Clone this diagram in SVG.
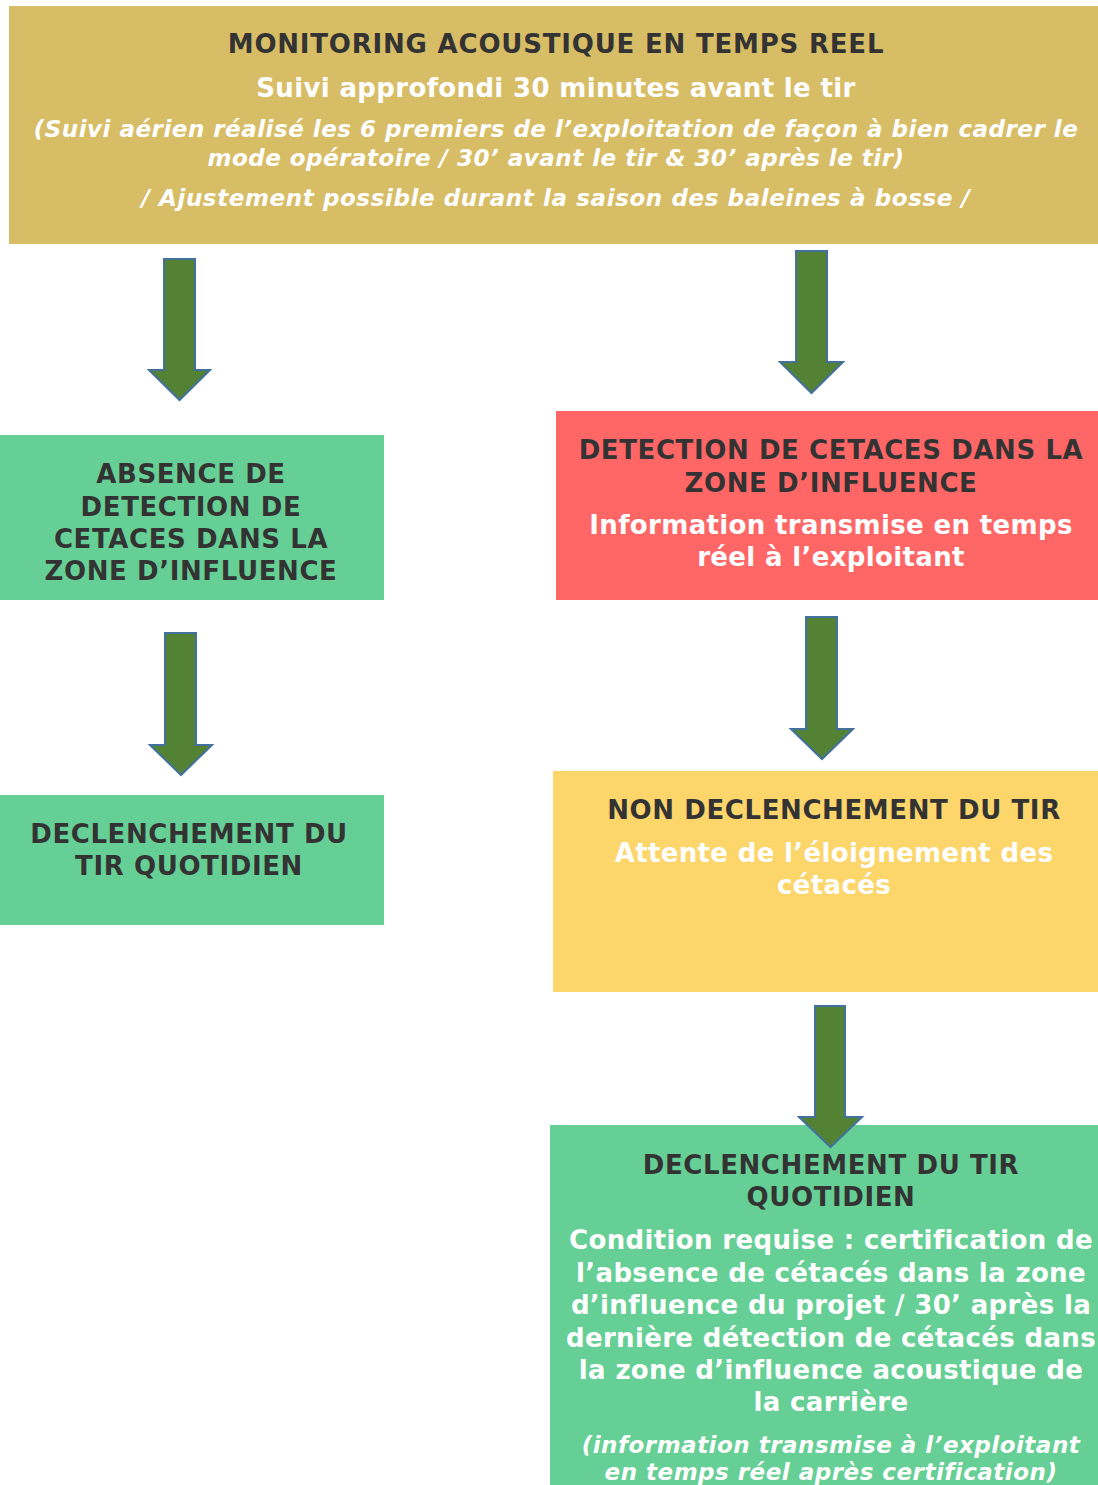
<svg xmlns="http://www.w3.org/2000/svg" width="1098" height="1485" viewBox="0 0 1098 1485">
<style>
text{font-family:"DejaVu Sans","Liberation Sans",sans-serif;font-weight:bold;text-anchor:middle}
.d{fill:#333333;font-size:26px;letter-spacing:0.6px}
.t{letter-spacing:0.8px}
.w{fill:#ffffff;font-size:26px;letter-spacing:0.35px}
.i{fill:#ffffff;font-size:23px;font-style:italic;letter-spacing:0.5px}
.arrow{fill:#548235;stroke:#41719C;stroke-width:2}
</style>
<rect width="1098" height="1485" fill="#ffffff"/>
<g id="top">
<rect x="9" y="6" width="1089" height="238" fill="#D8BD67"/>
<text class="d t" x="556" y="53">MONITORING ACOUSTIQUE EN TEMPS REEL</text>
<text class="w" x="556" y="97">Suivi approfondi 30 minutes avant le tir</text>
<text class="i" x="556" y="137">(Suivi aérien réalisé les 6 premiers de l’exploitation de façon à bien cadrer le</text>
<text class="i" x="556" y="166">mode opératoire / 30’ avant le tir &amp; 30’ après le tir)</text>
<text class="i" x="556" y="206" style="letter-spacing:0.6px">/ Ajustement possible durant la saison des baleines à bosse /</text>
</g>
<g id="absence">
<rect x="0" y="435" width="384" height="165" fill="#66CF95"/>
<text class="d" x="191" y="483">ABSENCE DE</text>
<text class="d" x="191" y="516">DETECTION DE</text>
<text class="d" x="191" y="548">CETACES DANS LA</text>
<text class="d" x="191" y="580">ZONE D’INFLUENCE</text>
</g>
<g id="declenchement-left">
<rect x="0" y="795" width="384" height="130" fill="#66CF95"/>
<text class="d" x="189" y="843">DECLENCHEMENT DU</text>
<text class="d" x="189" y="875">TIR QUOTIDIEN</text>
</g>
<g id="detection">
<rect x="556" y="411" width="542" height="189" fill="#FF6666"/>
<text class="d" x="831" y="459">DETECTION DE CETACES DANS LA</text>
<text class="d" x="831" y="492">ZONE D’INFLUENCE</text>
<text class="w" x="831" y="534">Information transmise en temps</text>
<text class="w" x="831" y="566">réel à l’exploitant</text>
</g>
<g id="non-declenchement">
<rect x="553" y="771" width="545" height="221" fill="#FCD56B"/>
<text class="d" x="834" y="819">NON DECLENCHEMENT DU TIR</text>
<text class="w" x="834" y="862">Attente de l’éloignement des</text>
<text class="w" x="834" y="894">cétacés</text>
</g>
<g id="declenchement-right">
<rect x="550" y="1125" width="548" height="360" fill="#66CF95"/>
<text class="d" x="831" y="1174">DECLENCHEMENT DU TIR</text>
<text class="d" x="831" y="1206">QUOTIDIEN</text>
<text class="w" x="831" y="1249">Condition requise : certification de</text>
<text class="w" x="831" y="1282">l’absence de cétacés dans la zone</text>
<text class="w" x="831" y="1314">d’influence du projet / 30’ après la</text>
<text class="w" x="831" y="1347">dernière détection de cétacés dans</text>
<text class="w" x="831" y="1379">la zone d’influence acoustique de</text>
<text class="w" x="831" y="1411">la carrière</text>
<text class="i" x="831" y="1453">(information transmise à l’exploitant</text>
<text class="i" x="831" y="1480">en temps réel après certification)</text>
</g>
<g id="connectors">
<path class="arrow" d="M164,259 H195 V370 H210 L179.5,400 L149,370 H164 Z"/>
<path class="arrow" d="M796,251 H827 V362 H843 L811.5,393 L780,362 H796 Z"/>
<path class="arrow" d="M165,633 H196 V745 H212 L181,775 L150,745 H165 Z"/>
<path class="arrow" d="M806,617 H837 V729 H853 L822,759 L791,729 H806 Z"/>
<path class="arrow" d="M815,1006 H845 V1117 H862 L830.5,1147 L799,1117 H815 Z"/>
</g>
</svg>
